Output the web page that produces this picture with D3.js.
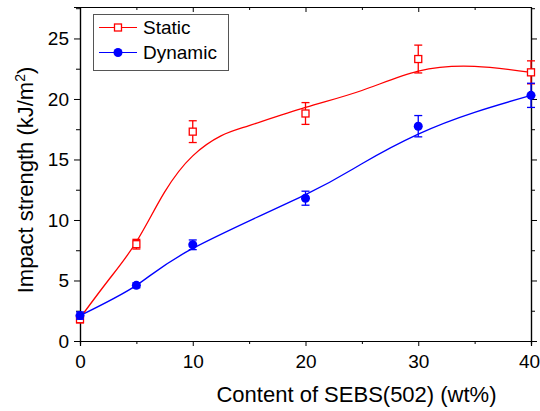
<!DOCTYPE html>
<meta charset="utf-8">
<style>
body { margin: 0; background: #fff; }
text { font-family: "Liberation Sans", Arial, Helvetica, sans-serif; fill: #000; }
g.axis text { font-size: 19px; }
g.axis path, g.axis line { stroke: #000; }
text.label { font-size: 22px; }
g.legend text { font-size: 19px; }
</style>
<body>
<div id="chart"></div>
<script src="https://cdn.jsdelivr.net/npm/d3@7"></script>
<script>
// SEBS content (wt%)
var content = [0, 5, 10, 20, 30, 40];

// measured impact strength, kJ/m2
var staticVals  = [1.8, 8.0, 17.3, 18.8, 23.3, 22.2];
var staticErr   = [0.3, 0.4, 0.9, 0.9, 1.15, 0.95];
var dynamicVals = [2.1, 4.6, 7.95, 11.8, 17.75, 20.3];
var dynamicErr  = [0.3, 0.2, 0.4, 0.58, 0.88, 1.0];

// smoothed fit curves
var staticFitX  = [0, 2.5, 5, 7.5, 10, 12.5, 15, 20, 25, 30, 35, 40];
var staticFitY  = [1.9, 5.0, 8.2, 12.3, 15.3, 16.95, 17.8, 19.3, 20.7, 22.3, 22.7, 22.2];
var dynamicFitX = [0, 5, 10, 20, 25, 30, 35, 40];
var dynamicFitY = [2.1, 4.6, 7.65, 12.1, 14.65, 17.1, 18.9, 20.3];

var xMajor = [0, 10, 20, 30, 40];
var xMinor = [5, 15, 25, 35];
var yMajor = [0, 5, 10, 15, 20, 25];
var yMinor = [2.5, 7.5, 12.5, 17.5, 22.5, 27.5];

var width = 540, height = 411;
var plot = {left: 80, right: 531, top: 7, bottom: 341};

var svg = d3.select("#chart").append("svg")
    .attr("width", width)
    .attr("height", height);

var x = d3.scaleLinear().domain([0, 40]).range([plot.left, plot.right]);
var y = d3.scaleLinear().domain([0, 27.6]).range([plot.bottom, plot.top]);

// axes: labelled bottom/left, mirrored ticks on top/right
function addAxis(axis, tx, ty) {
  return svg.append("g").attr("class", "axis")
      .attr("transform", "translate(" + tx + "," + ty + ")")
      .call(axis);
}

var xAx = addAxis(d3.axisBottom(x).tickValues(xMajor).tickSize(5).tickPadding(9).tickFormat(d3.format("d")), 0, plot.bottom);
// last label sits at the page edge
xAx.selectAll(".tick text").filter(function (d) { return d === 40; }).attr("dx", -2);
addAxis(d3.axisBottom(x).tickValues(xMinor).tickSize(3).tickFormat(""), 0, plot.bottom);
addAxis(d3.axisLeft(y).tickValues(yMajor).tickSize(6).tickPadding(5).tickFormat(d3.format("d")), plot.left, 0);
addAxis(d3.axisLeft(y).tickValues(yMinor).tickSize(4).tickFormat(""), plot.left, 0);

addAxis(d3.axisBottom(x).tickValues(xMajor).tickSize(5).tickSizeOuter(0).tickFormat(""), 0, plot.top);
addAxis(d3.axisBottom(x).tickValues(xMinor).tickSize(3).tickSizeOuter(0).tickFormat(""), 0, plot.top);
addAxis(d3.axisLeft(y).tickValues(yMajor).tickSize(-6).tickSizeOuter(0).tickFormat(""), plot.right, 0);
addAxis(d3.axisLeft(y).tickValues(yMinor).tickSize(-4).tickSizeOuter(0).tickFormat(""), plot.right, 0);

svg.selectAll("g.axis path.domain").attr("stroke-width", 1.2);

// axis labels
svg.append("text").attr("class", "label")
    .attr("x", (plot.left + plot.right) / 2 + 51)
    .attr("y", 402)
    .attr("text-anchor", "middle")
    .text("Content of SEBS(502) (wt%)");

var yl = svg.append("text").attr("class", "label")
    .attr("transform", "translate(33," + ((plot.top + plot.bottom) / 2 + 6) + ") rotate(-90)")
    .attr("text-anchor", "middle");
yl.append("tspan").text("Impact strength (kJ/m");
yl.append("tspan").attr("dy", -8).attr("font-size", 14).text("2");
yl.append("tspan").attr("dy", 8).text(")");

var line = d3.line()
    .x(function (d) { return x(d[0]); })
    .y(function (d) { return y(d[1]); })
    .curve(d3.curveNatural);

function drawSeries(fitX, fitY, vals, errs, color, marker) {
  var g = svg.append("g");
  g.append("path")
      .datum(d3.zip(fitX, fitY))
      .attr("d", line)
      .attr("fill", "none")
      .attr("stroke", color)
      .attr("stroke-width", 1.3);

  var pts = content.map(function (c, i) { return {x: c, v: vals[i], e: errs[i]}; });
  var eb = g.selectAll("g.err").data(pts).enter().append("g")
      .attr("stroke", color).attr("stroke-width", 1.3);
  eb.append("line")
      .attr("x1", function (d) { return x(d.x); })
      .attr("x2", function (d) { return x(d.x); })
      .attr("y1", function (d) { return y(d.v - d.e); })
      .attr("y2", function (d) { return y(d.v + d.e); });
  [-1, 1].forEach(function (s) {
    eb.append("line")
        .attr("x1", function (d) { return x(d.x) - 4; })
        .attr("x2", function (d) { return x(d.x) + 4; })
        .attr("y1", function (d) { return y(d.v + s * d.e); })
        .attr("y2", function (d) { return y(d.v + s * d.e); });
  });

  if (marker === "square") {
    g.selectAll("rect.m").data(pts).enter().append("rect")
        .attr("x", function (d) { return x(d.x) - 3.5; })
        .attr("y", function (d) { return y(d.v) - 3.5; })
        .attr("width", 7).attr("height", 7)
        .attr("fill", "#fff").attr("stroke", color).attr("stroke-width", 1.3);
  } else {
    g.selectAll("circle.m").data(pts).enter().append("circle")
        .attr("cx", function (d) { return x(d.x); })
        .attr("cy", function (d) { return y(d.v); })
        .attr("r", 4.5)
        .attr("fill", color);
  }
}

drawSeries(staticFitX, staticFitY, staticVals, staticErr, "#ff0000", "square");
drawSeries(dynamicFitX, dynamicFitY, dynamicVals, dynamicErr, "#0000ff", "circle");

// legend
var lg = svg.append("g").attr("class", "legend");
lg.append("rect")
    .attr("x", 93.5).attr("y", 14.5).attr("width", 135).attr("height", 56)
    .attr("fill", "#fff").attr("stroke", "#555").attr("stroke-width", 1);

var legendItems = [
  {name: "Static", color: "#ff0000", marker: "square", yy: 27.5},
  {name: "Dynamic", color: "#0000ff", marker: "circle", yy: 52.5}
];
legendItems.forEach(function (it) {
  lg.append("line").attr("x1", 99).attr("x2", 137)
      .attr("y1", it.yy).attr("y2", it.yy)
      .attr("stroke", it.color).attr("stroke-width", 1.2);
  if (it.marker === "square") {
    lg.append("rect").attr("x", 114.5).attr("y", it.yy - 3.5)
        .attr("width", 7).attr("height", 7)
        .attr("fill", "#fff").attr("stroke", it.color).attr("stroke-width", 1.3);
  } else {
    lg.append("circle").attr("cx", 118).attr("cy", it.yy).attr("r", 4.5)
        .attr("fill", it.color);
  }
  lg.append("text").attr("x", 143).attr("y", it.yy).attr("dy", "0.36em")
      .text(it.name);
});
</script>
</body>
